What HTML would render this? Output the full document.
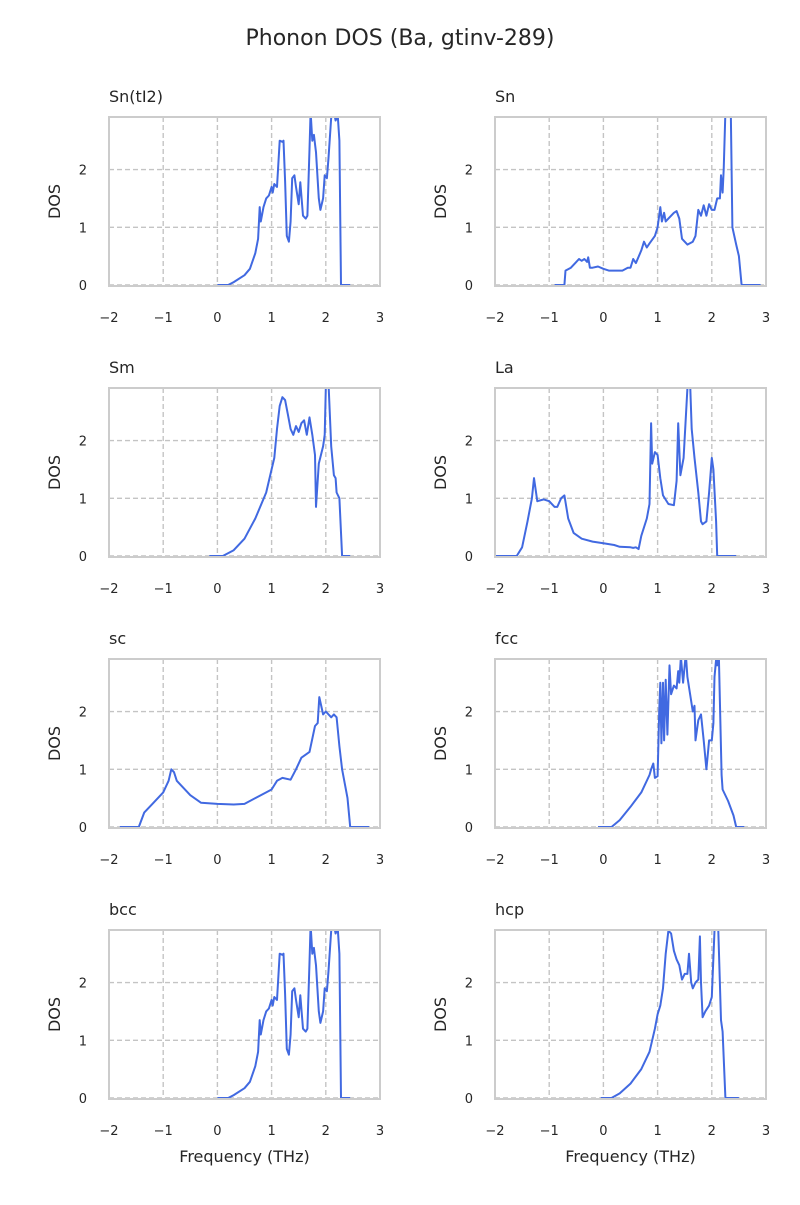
<!DOCTYPE html>
<html><head><meta charset="utf-8"><style>
body{margin:0;background:#fff;font-family:"Liberation Sans","DejaVu Sans",sans-serif}
svg text{font-family:"DejaVu Sans","Liberation Sans",sans-serif;fill:#262626}
</style></head><body>
<svg id="fig" width="800" height="1200" xmlns="http://www.w3.org/2000/svg">
<text x="400" y="45" text-anchor="middle" font-size="22">Phonon DOS (Ba, gtinv-289)</text>
</svg>
<script>
const panelTitles=["Sn(tI2)","Sn","Sm","La","sc","fcc","bcc","hcp"];
const xTicks=[-2,-1,0,1,2,3];
const yTicks=[0,1,2];
const fSnTI2=[0,0.2,0.3,0.5,0.6,0.7,0.75,0.78,0.8,0.85,0.9,0.95,1.0,1.02,1.05,1.1,1.15,1.2,1.22,1.25,1.28,1.32,1.35,1.38,1.42,1.45,1.5,1.53,1.58,1.63,1.66,1.7,1.72,1.75,1.78,1.82,1.87,1.9,1.95,1.98,2.02,2.05,2.1,2.15,2.18,2.22,2.25,2.28,2.45];
const dSnTI2=[0,0,0.05,0.17,0.28,0.55,0.8,1.35,1.1,1.35,1.5,1.55,1.7,1.6,1.75,1.7,2.5,2.48,2.5,1.8,0.85,0.75,1.1,1.85,1.9,1.7,1.4,1.78,1.2,1.15,1.2,2.35,3.0,2.5,2.6,2.3,1.5,1.3,1.5,1.9,1.85,2.2,2.9,3.0,2.85,2.95,2.5,0,0];
const fSn=[-0.9,-0.72,-0.7,-0.6,-0.5,-0.45,-0.4,-0.35,-0.3,-0.28,-0.25,-0.2,-0.1,0,0.1,0.2,0.35,0.45,0.5,0.55,0.6,0.7,0.75,0.8,0.85,0.95,1.0,1.05,1.08,1.12,1.15,1.2,1.3,1.35,1.4,1.45,1.55,1.65,1.7,1.75,1.8,1.85,1.9,1.95,2.0,2.05,2.1,2.15,2.17,2.2,2.22,2.25,2.3,2.35,2.38,2.45,2.5,2.55,2.9];
const dSn=[0,0,0.25,0.3,0.4,0.45,0.42,0.45,0.4,0.48,0.3,0.3,0.32,0.28,0.25,0.25,0.25,0.3,0.3,0.45,0.38,0.6,0.75,0.65,0.72,0.85,1.0,1.35,1.1,1.25,1.1,1.15,1.25,1.28,1.15,0.8,0.7,0.75,0.85,1.3,1.2,1.38,1.2,1.4,1.3,1.3,1.5,1.5,1.9,1.6,2.0,3.0,3.0,3.0,1.0,0.7,0.5,0,0];
const fSm=[-0.15,0.1,0.3,0.5,0.7,0.9,1.0,1.05,1.1,1.15,1.2,1.25,1.3,1.35,1.4,1.45,1.5,1.55,1.6,1.65,1.7,1.75,1.8,1.82,1.87,1.95,1.98,2.0,2.05,2.1,2.15,2.18,2.2,2.25,2.3,2.45];
const dSm=[0,0,0.1,0.3,0.65,1.1,1.5,1.7,2.2,2.6,2.75,2.7,2.45,2.2,2.1,2.25,2.15,2.3,2.35,2.1,2.4,2.1,1.75,0.85,1.6,1.9,2.1,2.9,3.0,1.9,1.4,1.35,1.1,1.0,0,0];
const fLa=[-2,-1.6,-1.5,-1.4,-1.32,-1.28,-1.22,-1.1,-1.0,-0.9,-0.85,-0.78,-0.72,-0.65,-0.55,-0.4,-0.2,0,0.2,0.3,0.5,0.55,0.6,0.65,0.7,0.8,0.85,0.88,0.9,0.95,1.0,1.05,1.1,1.2,1.3,1.35,1.38,1.42,1.48,1.55,1.6,1.63,1.68,1.75,1.8,1.83,1.9,1.95,2.0,2.03,2.08,2.1,2.45];
const dLa=[0,0,0.15,0.6,1.0,1.35,0.95,0.98,0.95,0.85,0.85,1.0,1.05,0.65,0.4,0.3,0.25,0.22,0.19,0.16,0.15,0.14,0.15,0.12,0.35,0.65,0.9,2.3,1.6,1.8,1.75,1.35,1.05,0.9,0.88,1.3,2.3,1.4,1.7,2.9,3.0,2.2,1.7,1.1,0.6,0.55,0.6,1.1,1.7,1.5,0.6,0,0];
const fSc=[-1.8,-1.45,-1.35,-1.2,-1.0,-0.9,-0.85,-0.8,-0.75,-0.65,-0.5,-0.3,0,0.3,0.5,0.7,0.9,1.0,1.1,1.2,1.35,1.45,1.55,1.7,1.8,1.85,1.88,1.95,2.0,2.1,2.15,2.2,2.25,2.3,2.4,2.45,2.8];
const dSc=[0,0,0.25,0.4,0.6,0.8,1.0,0.95,0.8,0.7,0.55,0.42,0.4,0.39,0.4,0.5,0.6,0.65,0.8,0.85,0.82,1.0,1.2,1.3,1.75,1.8,2.25,1.95,2.0,1.9,1.95,1.9,1.4,1.0,0.5,0,0];
const fFcc=[-0.1,0.15,0.3,0.5,0.7,0.85,0.88,0.92,0.95,1.0,1.03,1.05,1.07,1.1,1.12,1.15,1.18,1.22,1.25,1.3,1.35,1.38,1.4,1.43,1.47,1.52,1.55,1.6,1.65,1.68,1.7,1.75,1.8,1.85,1.9,1.92,1.95,2.0,2.03,2.05,2.08,2.1,2.13,2.18,2.2,2.3,2.4,2.45,2.6];
const dFcc=[0,0,0.12,0.35,0.6,0.9,1.0,1.1,0.85,0.88,2.0,2.5,1.45,2.5,1.5,2.55,1.6,2.8,2.3,2.45,2.4,2.7,2.5,2.95,2.5,3.0,2.6,2.3,2.0,2.1,1.5,1.85,1.95,1.5,1.0,1.2,1.5,1.5,1.8,2.6,2.9,2.8,3.0,0.9,0.65,0.45,0.2,0,0];
const fHcp=[-0.05,0.15,0.3,0.5,0.7,0.85,0.95,1.0,1.05,1.1,1.15,1.2,1.25,1.3,1.35,1.4,1.45,1.5,1.55,1.58,1.62,1.65,1.7,1.75,1.78,1.8,1.83,1.88,1.95,2.0,2.05,2.1,2.12,2.17,2.2,2.25,2.5];
const dHcp=[0,0,0.08,0.25,0.5,0.8,1.2,1.45,1.6,1.9,2.5,2.9,2.85,2.55,2.4,2.3,2.05,2.15,2.15,2.5,2.0,1.9,2.0,2.05,2.8,2.0,1.4,1.5,1.6,1.75,2.9,3.0,2.9,1.35,1.15,0,0];
const panelFreqs=[fSnTI2,fSn,fSm,fLa,fSc,fFcc,fSnTI2,fHcp];
const panelDos=[dSnTI2,dSn,dSm,dLa,dSc,dFcc,dSnTI2,dHcp];

const NS="http://www.w3.org/2000/svg";
const svg=document.getElementById('fig');
const colX=[109,495], rowY=[117,388,659,930], W=271, H=169;
const xMin=-2,xMax=3,yMax=2.91;
function mk(t,a,p){const e=document.createElementNS(NS,t);for(const k in a)e.setAttribute(k,a[k]);(p||svg).appendChild(e);return e;}
panelTitles.forEach((title,i)=>{
  const x0=colX[i%2], y0=rowY[Math.floor(i/2)];
  const sx=v=>x0+(v-xMin)/(xMax-xMin)*W;
  const sy=v=>y0+H-1-v/yMax*(H-1);
  const g=mk('g',{});
  
  
  const cid='clip'+i;
  const cp=mk('clipPath',{id:cid},g);mk('rect',{x:x0,y:y0,width:W,height:H+1},cp);
  xTicks.forEach(t=>{
    const ln=mk('line',{x1:sx(t),x2:sx(t),y1:y0,y2:y0+H,stroke:'#c4c4c4','stroke-width':1.4,'stroke-dasharray':'5,3'},g);
    
    const tx=mk('text',{x:sx(t),y:y0+H+36,'text-anchor':'middle','font-size':13},g);
    tx.textContent=(t<0?'\u2212'+(-t):t);
    
  });
  yTicks.forEach(t=>{
    const ln=mk('line',{x1:x0,x2:x0+W,y1:sy(t),y2:sy(t),stroke:'#c4c4c4','stroke-width':1.4,'stroke-dasharray':'5,3'},g);
    
    const tx=mk('text',{x:x0-22,y:sy(t)+5,'text-anchor':'end','font-size':13},g);
    tx.textContent=t;
    
  });
  const f=panelFreqs[i], d=panelDos[i];
  const pts=f.map((v,k)=>sx(v).toFixed(1)+','+sy(d[k]).toFixed(1)).join(' ');
  const pl=mk('polyline',{points:pts,fill:'none',stroke:'#4169e1','stroke-width':2,'stroke-linejoin':'round','clip-path':'url(#'+cid+')'},g);
  
  const fr=mk('rect',{x:x0,y:y0,width:W,height:H,fill:'none',stroke:'#cccccc','stroke-width':2},g);
  
  const tt=mk('text',{x:x0,y:y0-15,'font-size':16},g);tt.textContent=title;
  
  const yl=mk('text',{x:0,y:0,'font-size':16,'text-anchor':'middle',transform:`translate(${x0-49},${y0+H/2}) rotate(-90)`},g);
  yl.textContent='DOS';
  
  if(i>=6){const xl=mk('text',{x:x0+W/2,y:y0+H+63,'text-anchor':'middle','font-size':16},g);xl.textContent='Frequency (THz)';
    }
});
</script>
</body></html>
